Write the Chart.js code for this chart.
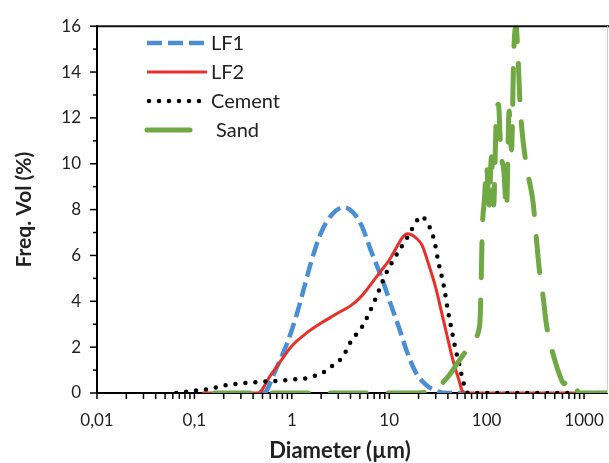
<!DOCTYPE html>
<html>
<head>
<meta charset="utf-8">
<script src="https://cdn.jsdelivr.net/npm/chart.js@4.4.1/dist/chart.umd.min.js"></script>
<style>
  html, body { margin: 0; padding: 0; background: #fff; }
  #wrap { width: 609px; height: 463px; position: relative; }
</style>
</head>
<body>
<div id="wrap"><canvas id="myChart"></canvas></div>
<script>
// particle size distributions, size in µm, volume in %
const lf1Size = [0.5, 0.55, 0.65, 0.75, 0.9, 1.1, 1.3, 1.6, 2.0, 2.6, 3.4, 4.2, 5.2, 6.5, 8.4, 10.5, 12.6, 15.5, 19, 24, 30, 40, 60];
const lf1Vol  = [0, 0.1, 0.8, 1.4, 2.2, 3.3, 4.4, 5.8, 7.0, 7.8, 8.1, 7.9, 7.3, 6.2, 5.0, 3.8, 2.85, 1.7, 0.85, 0.35, 0.1, 0, 0];

const lf2Size = [0.12, 0.3, 0.45, 0.6, 0.8, 1.0, 1.4, 2.0, 2.5, 3.0, 4.0, 5.0, 6.0, 7.8, 10, 11.7, 13.5, 15.2, 17, 19, 21.7, 25, 30, 35, 41, 46, 52, 56, 60, 100, 300, 1000, 1720];
const lf2Vol  = [0, 0, 0, 0.75, 1.5, 2.05, 2.6, 3.05, 3.3, 3.5, 3.8, 4.15, 4.55, 5.2, 5.8, 6.3, 6.75, 6.95, 6.9, 6.75, 6.45, 5.7, 4.6, 3.4, 2.15, 1.3, 0.56, 0.1, 0, 0, 0, 0, 0];

const cemSize = [0.065, 0.08, 0.1, 0.14, 0.22, 0.36, 0.55, 0.8, 1.1, 1.4, 1.8, 2.3, 2.8, 3.3, 4.1, 5.2, 6.4, 7.8, 9, 10.7, 13, 15.9, 18.5, 21.2, 24, 28.8, 32, 36.6, 40, 44, 48, 52, 58, 64, 100, 300, 1000, 1720];
const cemVol  = [0, 0.05, 0.1, 0.17, 0.35, 0.45, 0.5, 0.55, 0.6, 0.64, 0.78, 1.0, 1.3, 1.55, 2.3, 2.85, 3.6, 4.45, 5.1, 5.7, 6.3, 6.9, 7.4, 7.7, 7.5, 6.7, 5.7, 4.6, 3.6, 2.7, 1.9, 1.3, 0.43, 0, 0, 0, 0, 0];

const sandSize = [0.16, 1, 10, 20, 30, 40, 50, 63, 75, 85, 88, 90, 95, 100, 106, 112, 118, 125, 132, 140, 150, 160, 170, 180, 190, 200, 210, 218, 230, 250, 270, 300, 320, 345, 380, 410, 460, 520, 560, 620, 700, 760, 850, 900, 1000, 1720];
const sandVol  = [0, 0, 0, 0, 0.2, 0.7, 1.3, 1.9, 2.4, 3.0, 5.0, 7.0, 8.5, 9.9, 8.2, 10.3, 8.2, 11.8, 12.6, 10.5, 9.7, 8.0, 12.3, 10.6, 14.9, 16, 14.7, 13.0, 11.5, 10.2, 9.4, 8.3, 7.0, 5.5, 4.2, 3.0, 2.0, 1.2, 0.8, 0.4, 0.65, 0.4, 0.1, 0, 0, 0];

const seriesNames = ['LF1', 'LF2', 'Cement', 'Sand'];
const xTitle = 'Diameter (µm)';
const xMin = 0.01, xMax = 1720;
const yMin = 0, yMax = 16;

const fontFam = 'Lato, "Liberation Sans", sans-serif';

function toPoints(xs, ys) {
  return xs.map((v, i) => ({ x: v, y: ys[i] }));
}

const styles = [
  { color: '#4a8fd4', width: 4.5, dash: [15, 6], cap: 'butt' },
  { color: '#e8302a', width: 3, dash: [], cap: 'butt' },
  { color: '#000000', width: 4.5, dash: [0, 10], cap: 'round' },
  { color: '#70a843', width: 5, dash: [36, 22], cap: 'round' }
];
const allData = [
  toPoints(lf1Size, lf1Vol),
  toPoints(lf2Size, lf2Vol),
  toPoints(cemSize, cemVol),
  toPoints(sandSize, sandVol)
];

const datasets = seriesNames.map((name, i) => ({
  label: name,
  data: allData[i],
  borderColor: styles[i].color,
  borderWidth: styles[i].width,
  borderDash: styles[i].dash,
  borderCapStyle: styles[i].cap,
  pointRadius: 0,
  fill: false,
  cubicInterpolationMode: 'monotone',
  order: 3 - i
}));

// ticks, frame, x title and the legend inside the plot
const extras = {
  id: 'extras',
  afterDraw(chart) {
    const { ctx, chartArea: a, scales: { x, y } } = chart;
    ctx.save();
    ctx.strokeStyle = '#000';
    ctx.lineWidth = 1.5;
    ctx.setLineDash([]);
    function line(x1, y1, x2, y2) {
      ctx.beginPath(); ctx.moveTo(x1, y1); ctx.lineTo(x2, y2); ctx.stroke();
    }
    for (let v = yMin; v <= yMax; v++) {
      const py = y.getPixelForValue(v);
      const len = v % 2 === 0 ? 7 : 4;
      line(a.left - len, py, a.left, py);
    }
    x.ticks.forEach(t => {
      const px = x.getPixelForValue(t.value);
      line(px, a.bottom, px, a.bottom + 6);
    });
    // plot frame top / right
    ctx.lineWidth = 2;
    ctx.strokeStyle = '#111';
    line(a.left, a.top, 609, a.top);
    ctx.lineWidth = 1;
    ctx.strokeStyle = '#cfcfcf';
    line(a.right + 0.5, a.top, a.right + 0.5, a.bottom);

    // x axis title, sits a little left of the plot centre
    ctx.font = 'bold 22px ' + fontFam;
    ctx.fillStyle = '#222';
    ctx.textAlign = 'center';
    ctx.textBaseline = 'middle';
    ctx.fillText(xTitle, 340, 451);

    // legend
    const legY = [43, 72, 101, 130];
    const legEnd = [205, 207, 207, 190];
    ctx.font = '20px ' + fontFam;
    ctx.textAlign = 'left';
    seriesNames.forEach((name, i) => {
      const s = styles[i];
      ctx.strokeStyle = s.color;
      ctx.lineWidth = s.width;
      ctx.lineCap = s.cap;
      ctx.setLineDash(i === 3 ? [] : s.dash);
      line(i === 2 ? 149 : 147, legY[i], legEnd[i], legY[i]);
      ctx.setLineDash([]);
      ctx.fillText(name, i === 3 ? 216 : 211, legY[i] + 1);
    });
    ctx.restore();
  }
};

const ctx = document.getElementById('myChart').getContext('2d');
new Chart(ctx, {
  type: 'line',
  data: { datasets: datasets },
  options: {
    responsive: true,
    maintainAspectRatio: false,
    animation: false,
    devicePixelRatio: 1,
    layout: { padding: { top: 22, right: 2, left: 0, bottom: 0 } },
    plugins: {
      legend: { display: false },
      tooltip: { enabled: false }
    },
    scales: {
      x: {
        type: 'logarithmic',
        min: xMin,
        max: xMax,
        afterBuildTicks(scale) {
          const t = [];
          for (let e = -2; e <= 3; e++) {
            for (let m = 1; m < 10; m++) {
              const v = m * Math.pow(10, e);
              if (v <= xMax) t.push({ value: v });
            }
          }
          scale.ticks = t;
        },
        afterFit(scale) {
          scale.height = 70;
          scale.paddingLeft = 0;
          scale.paddingRight = 0;
        },
        grid: { display: false, drawTicks: false },
        border: { display: true, color: '#000', width: 2 },
        ticks: {
          autoSkip: false,
          maxRotation: 0,
          padding: 17,
          color: '#222',
          font: { family: fontFam, size: 17 },
          callback(value) {
            const lg = Math.log10(value);
            if (Math.abs(lg - Math.round(lg)) > 1e-6) return '';
            return String(Number(value.toPrecision(3))).replace('.', ',');
          }
        }
      },
      y: {
        min: yMin,
        max: yMax,
        afterFit(scale) { scale.width = 97; },
        grid: { display: false, drawTicks: false },
        border: { display: true, color: '#000', width: 2 },
        ticks: {
          stepSize: 1,
          autoSkip: false,
          padding: 16,
          color: '#222',
          font: { family: fontFam, size: 17 },
          callback(value) { return value % 2 === 0 ? value : ''; }
        },
        title: {
          display: true,
          text: 'Freq. Vol (%)',
          color: '#222',
          font: { family: fontFam, size: 21, weight: 'bold', lineHeight: 1 },
          padding: { top: 14, bottom: 0 }
        }
      }
    }
  },
  plugins: [extras]
});
</script>
</body>
</html>
